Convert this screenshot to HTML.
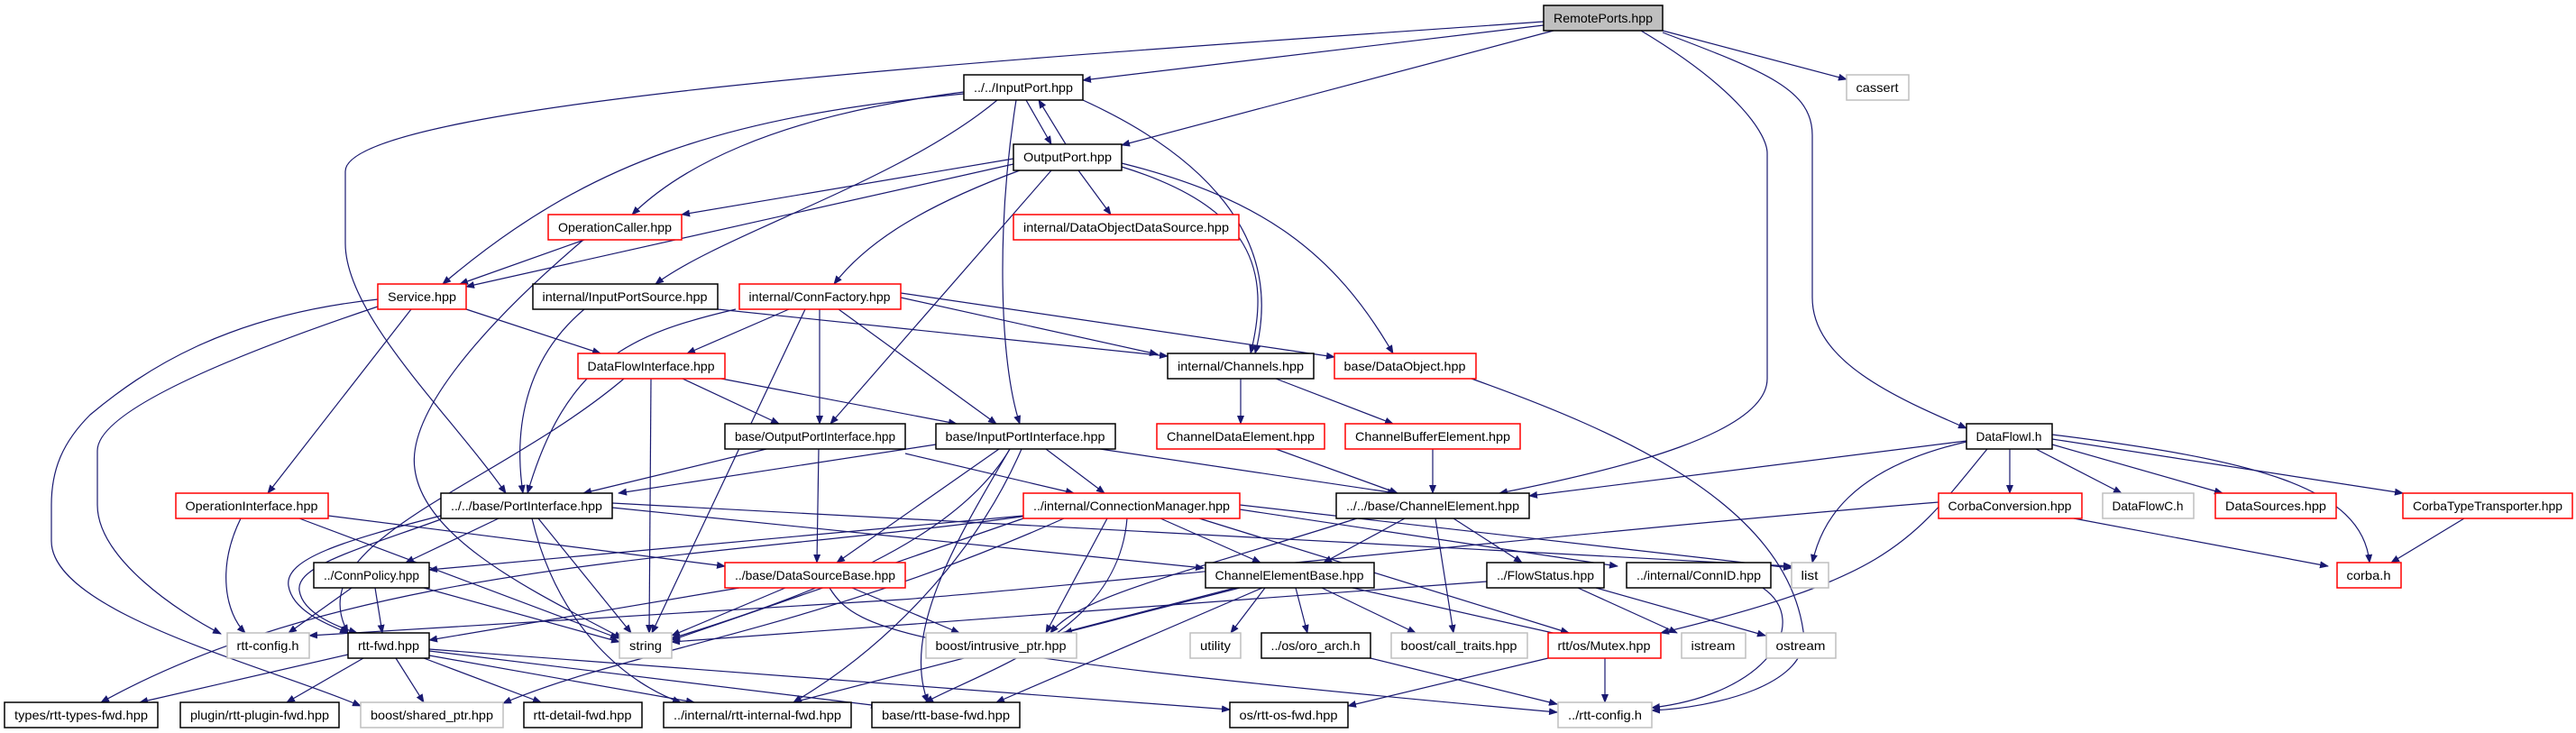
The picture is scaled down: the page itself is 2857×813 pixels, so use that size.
<!DOCTYPE html>
<html><head><meta charset="utf-8"><style>
html,body{margin:0;padding:0;background:#fff;}
svg{display:block}
text{font-family:"Liberation Sans",sans-serif;font-size:14px;fill:#000;text-anchor:middle}
.b{fill:#fff;stroke:#000;stroke-width:1.5}
.r{fill:#fff;stroke:#ff0000;stroke-width:1.5}
.g{fill:#fff;stroke:#bfbfbf;stroke-width:1.5}
.e path{fill:none;stroke:#191970;stroke-width:1.2;marker-end:url(#a)}
</style></head><body>
<svg width="2857" height="813" viewBox="0 0 2857 813" xmlns="http://www.w3.org/2000/svg">
<defs><marker id="a" markerWidth="10" markerHeight="8" refX="9" refY="4" orient="auto" markerUnits="userSpaceOnUse"><path d="M0,0 L10,4 L0,8 z" fill="#191970"/></marker></defs>
<g class="e">
<path d="M1712,28 L1201,89"/>
<path d="M1723,34 L1244,161"/>
<path d="M1712,24 C1200,60 383,110 383,190 L383,270 C383,350 500,460 561,547"/>
<path d="M1820,34 C1930,100 1960,150 1960,170 L1960,420 C1960,480 1800,520 1663,547"/>
<path d="M1844,34 L2048,88"/>
<path d="M1844,36 C1960,80 2010,100 2010,150 L2010,330 C2010,400 2100,440 2181,475"/>
<path d="M1138,111 L1166,160"/>
<path d="M1182,160 L1152,111"/>
<path d="M1069,102 C850,130 750,190 701,238"/>
<path d="M1069,104 C800,130 650,180 491,315"/>
<path d="M1106,111 C1000,200 800,260 727,315"/>
<path d="M1127,111 C1105,250 1108,400 1131,470"/>
<path d="M1201,111 C1330,170 1427,260 1392,392"/>
<path d="M1124,176 L756,238"/>
<path d="M1124,182 L517,318"/>
<path d="M1131,189 C1020,230 960,270 925,315"/>
<path d="M1196,189 L1232,238"/>
<path d="M1244,185 C1390,230 1410,300 1387,392"/>
<path d="M1244,181 C1400,220 1480,280 1545,392"/>
<path d="M1166,189 L921,470"/>
<path d="M648,266 L510,315"/>
<path d="M647,266 C560,340 450,450 460,520 C470,600 600,660 690,708"/>
<path d="M419,332 C250,350 160,410 100,460 C70,490 57,520 57,560 L57,600 C57,680 300,740 400,783"/>
<path d="M419,340 C300,380 108,450 108,500 L108,560 C108,620 200,680 245,703"/>
<path d="M456,343 L297,547"/>
<path d="M517,343 L666,392"/>
<path d="M796,343 L1295,395"/>
<path d="M648,343 C580,400 570,480 580,547"/>
<path d="M875,343 L762,392"/>
<path d="M816,343 C700,370 628,400 585,547"/>
<path d="M893,343 L723,702"/>
<path d="M909,343 L909,470"/>
<path d="M930,343 L1105,470"/>
<path d="M999,330 L1284,393"/>
<path d="M999,325 L1480,396"/>
<path d="M757,420 L864,470"/>
<path d="M800,420 L1061,470"/>
<path d="M722,420 L720,702"/>
<path d="M692,420 C550,540 330,600 386,702"/>
<path d="M850,498 L647,547"/>
<path d="M908,498 L906,624"/>
<path d="M1004,503 L1191,547"/>
<path d="M1038,493 L686,547"/>
<path d="M1160,498 L1225,547"/>
<path d="M1220,498 L1548,547"/>
<path d="M1108,498 L928,624"/>
<path d="M1120,498 C1060,600 900,660 745,708"/>
<path d="M1133,498 C1080,620 980,720 880,779"/>
<path d="M1120,498 C1060,600 1000,700 1029,779"/>
<path d="M1415,498 L1550,547"/>
<path d="M1589,498 L1589,547"/>
<path d="M1376,420 L1376,470"/>
<path d="M1415,420 L1545,470"/>
<path d="M1632,420 C1800,480 1980,560 2000,700 C2010,760 1900,785 1832,788"/>
<path d="M553,575 L450,624"/>
<path d="M489,572 C380,600 315,620 320,650 C325,680 370,695 386,702"/>
<path d="M489,576 C395,610 328,628 332,655 C336,682 380,697 396,702"/>
<path d="M597,575 L700,702"/>
<path d="M590,575 C620,700 700,760 755,779"/>
<path d="M679,563 L1335,630"/>
<path d="M679,558 L1987,628"/>
<path d="M1140,572 C800,620 400,620 112,779"/>
<path d="M267,575 C240,630 250,680 272,702"/>
<path d="M332,575 L686,708"/>
<path d="M364,572 L804,628"/>
<path d="M390,652 L320,702"/>
<path d="M416,652 L424,702"/>
<path d="M470,652 L687,712"/>
<path d="M820,652 L476,710"/>
<path d="M871,652 L745,705"/>
<path d="M945,652 L1064,702"/>
<path d="M920,652 C950,700 1000,725 1727,790"/>
<path d="M1135,572 L476,632"/>
<path d="M1287,575 L1398,624"/>
<path d="M1330,575 L1740,702"/>
<path d="M1375,565 L1794,628"/>
<path d="M1375,560 L1987,630"/>
<path d="M1228,575 L1160,702"/>
<path d="M1250,575 C1240,700 1100,740 1026,779"/>
<path d="M1135,575 L745,710"/>
<path d="M1180,575 C900,700 700,720 558,780"/>
<path d="M1558,575 L1468,624"/>
<path d="M1612,575 L1688,624"/>
<path d="M1592,575 L1612,702"/>
<path d="M1505,575 C1300,640 1200,660 1165,702"/>
<path d="M1375,652 L1180,702"/>
<path d="M1403,652 L1365,702"/>
<path d="M1437,652 L1450,702"/>
<path d="M1466,652 L1570,702"/>
<path d="M1500,652 L1740,706"/>
<path d="M1370,652 L880,779"/>
<path d="M1400,652 L1105,779"/>
<path d="M1649,645 L745,712"/>
<path d="M1750,652 L1860,702"/>
<path d="M1770,652 L1958,705"/>
<path d="M1955,652 C2010,690 1960,770 1832,785"/>
<path d="M2181,489 L1696,550"/>
<path d="M2181,490 C2050,520 2020,580 2010,624"/>
<path d="M2204,498 C2120,600 2100,640 1842,702"/>
<path d="M2229,498 L2229,547"/>
<path d="M2258,498 L2353,547"/>
<path d="M2276,493 L2465,547"/>
<path d="M2276,487 L2665,547"/>
<path d="M2276,482 C2500,510 2620,540 2628,624"/>
<path d="M2300,575 L2582,628"/>
<path d="M2150,557 C1800,585 1200,650 1000,665 L343,705"/>
<path d="M2733,575 L2652,624"/>
<path d="M1717,730 L1495,783"/>
<path d="M1780,730 L1780,779"/>
<path d="M1520,730 L1727,781"/>
<path d="M386,726 L155,779"/>
<path d="M403,730 L318,779"/>
<path d="M439,730 L470,779"/>
<path d="M470,730 L600,779"/>
<path d="M476,727 L770,779"/>
<path d="M476,722 L975,783"/>
<path d="M476,720 L1364,787"/>
</g>
<g>
<rect x="1712" y="6" width="132" height="28" fill="#bfbfbf" stroke="#000" stroke-width="1.5"/><text x="1778" y="25" textLength="110" lengthAdjust="spacingAndGlyphs">RemotePorts.hpp</text>
<rect class="b" x="1069" y="83" width="132" height="28"/><text x="1135" y="102" textLength="110" lengthAdjust="spacingAndGlyphs">../../InputPort.hpp</text>
<rect class="g" x="2048" y="83" width="69" height="28"/><text x="2082" y="102" textLength="47" lengthAdjust="spacingAndGlyphs">cassert</text>
<rect class="b" x="1124" y="160" width="120" height="29"/><text x="1184" y="179" textLength="98" lengthAdjust="spacingAndGlyphs">OutputPort.hpp</text>
<rect class="r" x="608" y="238" width="148" height="28"/><text x="682" y="257" textLength="126" lengthAdjust="spacingAndGlyphs">OperationCaller.hpp</text>
<rect class="r" x="1124" y="238" width="250" height="28"/><text x="1249" y="257" textLength="228" lengthAdjust="spacingAndGlyphs">internal/DataObjectDataSource.hpp</text>
<rect class="r" x="419" y="315" width="98" height="28"/><text x="468" y="334" textLength="76" lengthAdjust="spacingAndGlyphs">Service.hpp</text>
<rect class="b" x="591" y="315" width="205" height="28"/><text x="693" y="334" textLength="183" lengthAdjust="spacingAndGlyphs">internal/InputPortSource.hpp</text>
<rect class="r" x="820" y="315" width="179" height="28"/><text x="909" y="334" textLength="157" lengthAdjust="spacingAndGlyphs">internal/ConnFactory.hpp</text>
<rect class="r" x="641" y="392" width="163" height="28"/><text x="722" y="411" textLength="141" lengthAdjust="spacingAndGlyphs">DataFlowInterface.hpp</text>
<rect class="b" x="1295" y="392" width="162" height="28"/><text x="1376" y="411" textLength="140" lengthAdjust="spacingAndGlyphs">internal/Channels.hpp</text>
<rect class="r" x="1480" y="392" width="157" height="28"/><text x="1558" y="411" textLength="135" lengthAdjust="spacingAndGlyphs">base/DataObject.hpp</text>
<rect class="b" x="804" y="470" width="200" height="28"/><text x="904" y="489" textLength="178" lengthAdjust="spacingAndGlyphs">base/OutputPortInterface.hpp</text>
<rect class="b" x="1038" y="470" width="199" height="28"/><text x="1137" y="489" textLength="177" lengthAdjust="spacingAndGlyphs">base/InputPortInterface.hpp</text>
<rect class="r" x="1283" y="470" width="186" height="28"/><text x="1376" y="489" textLength="164" lengthAdjust="spacingAndGlyphs">ChannelDataElement.hpp</text>
<rect class="r" x="1492" y="470" width="194" height="28"/><text x="1589" y="489" textLength="172" lengthAdjust="spacingAndGlyphs">ChannelBufferElement.hpp</text>
<rect class="b" x="2181" y="470" width="95" height="28"/><text x="2228" y="489" textLength="73" lengthAdjust="spacingAndGlyphs">DataFlowI.h</text>
<rect class="r" x="195" y="547" width="169" height="28"/><text x="279" y="566" textLength="147" lengthAdjust="spacingAndGlyphs">OperationInterface.hpp</text>
<rect class="b" x="489" y="547" width="190" height="28"/><text x="584" y="566" textLength="168" lengthAdjust="spacingAndGlyphs">../../base/PortInterface.hpp</text>
<rect class="r" x="1135" y="547" width="240" height="28"/><text x="1255" y="566" textLength="218" lengthAdjust="spacingAndGlyphs">../internal/ConnectionManager.hpp</text>
<rect class="b" x="1482" y="547" width="214" height="28"/><text x="1589" y="566" textLength="192" lengthAdjust="spacingAndGlyphs">../../base/ChannelElement.hpp</text>
<rect class="r" x="2150" y="547" width="159" height="28"/><text x="2229" y="566" textLength="137" lengthAdjust="spacingAndGlyphs">CorbaConversion.hpp</text>
<rect class="g" x="2332" y="547" width="101" height="28"/><text x="2382" y="566" textLength="79" lengthAdjust="spacingAndGlyphs">DataFlowC.h</text>
<rect class="r" x="2457" y="547" width="134" height="28"/><text x="2524" y="566" textLength="112" lengthAdjust="spacingAndGlyphs">DataSources.hpp</text>
<rect class="r" x="2665" y="547" width="188" height="28"/><text x="2759" y="566" textLength="166" lengthAdjust="spacingAndGlyphs">CorbaTypeTransporter.hpp</text>
<rect class="b" x="348" y="624" width="128" height="28"/><text x="412" y="643" textLength="106" lengthAdjust="spacingAndGlyphs">../ConnPolicy.hpp</text>
<rect class="r" x="804" y="624" width="200" height="28"/><text x="904" y="643" textLength="178" lengthAdjust="spacingAndGlyphs">../base/DataSourceBase.hpp</text>
<rect class="b" x="1337" y="624" width="187" height="28"/><text x="1430" y="643" textLength="165" lengthAdjust="spacingAndGlyphs">ChannelElementBase.hpp</text>
<rect class="b" x="1649" y="624" width="130" height="28"/><text x="1714" y="643" textLength="108" lengthAdjust="spacingAndGlyphs">../FlowStatus.hpp</text>
<rect class="b" x="1804" y="624" width="160" height="28"/><text x="1884" y="643" textLength="138" lengthAdjust="spacingAndGlyphs">../internal/ConnID.hpp</text>
<rect class="g" x="1987" y="624" width="41" height="28"/><text x="2007" y="643" textLength="19" lengthAdjust="spacingAndGlyphs">list</text>
<rect class="r" x="2592" y="624" width="71" height="28"/><text x="2627" y="643" textLength="49" lengthAdjust="spacingAndGlyphs">corba.h</text>
<rect class="g" x="252" y="702" width="91" height="28"/><text x="297" y="721" textLength="69" lengthAdjust="spacingAndGlyphs">rtt-config.h</text>
<rect class="b" x="386" y="702" width="90" height="28"/><text x="431" y="721" textLength="68" lengthAdjust="spacingAndGlyphs">rtt-fwd.hpp</text>
<rect class="g" x="687" y="702" width="58" height="28"/><text x="716" y="721" textLength="36" lengthAdjust="spacingAndGlyphs">string</text>
<rect class="g" x="1027" y="702" width="167" height="28"/><text x="1110" y="721" textLength="145" lengthAdjust="spacingAndGlyphs">boost/intrusive_ptr.hpp</text>
<rect class="g" x="1320" y="702" width="56" height="28"/><text x="1348" y="721" textLength="34" lengthAdjust="spacingAndGlyphs">utility</text>
<rect class="b" x="1399" y="702" width="121" height="28"/><text x="1459" y="721" textLength="99" lengthAdjust="spacingAndGlyphs">../os/oro_arch.h</text>
<rect class="g" x="1543" y="702" width="151" height="28"/><text x="1618" y="721" textLength="129" lengthAdjust="spacingAndGlyphs">boost/call_traits.hpp</text>
<rect class="r" x="1717" y="702" width="125" height="28"/><text x="1779" y="721" textLength="103" lengthAdjust="spacingAndGlyphs">rtt/os/Mutex.hpp</text>
<rect class="g" x="1865" y="702" width="71" height="28"/><text x="1900" y="721" textLength="49" lengthAdjust="spacingAndGlyphs">istream</text>
<rect class="g" x="1959" y="702" width="77" height="28"/><text x="1997" y="721" textLength="55" lengthAdjust="spacingAndGlyphs">ostream</text>
<rect class="b" x="5" y="779" width="170" height="28"/><text x="90" y="798" textLength="148" lengthAdjust="spacingAndGlyphs">types/rtt-types-fwd.hpp</text>
<rect class="b" x="200" y="779" width="176" height="28"/><text x="288" y="798" textLength="154" lengthAdjust="spacingAndGlyphs">plugin/rtt-plugin-fwd.hpp</text>
<rect class="g" x="400" y="779" width="158" height="28"/><text x="479" y="798" textLength="136" lengthAdjust="spacingAndGlyphs">boost/shared_ptr.hpp</text>
<rect class="b" x="581" y="779" width="131" height="28"/><text x="646" y="798" textLength="109" lengthAdjust="spacingAndGlyphs">rtt-detail-fwd.hpp</text>
<rect class="b" x="736" y="779" width="208" height="28"/><text x="840" y="798" textLength="186" lengthAdjust="spacingAndGlyphs">../internal/rtt-internal-fwd.hpp</text>
<rect class="b" x="967" y="779" width="164" height="28"/><text x="1049" y="798" textLength="142" lengthAdjust="spacingAndGlyphs">base/rtt-base-fwd.hpp</text>
<rect class="b" x="1364" y="779" width="131" height="28"/><text x="1429" y="798" textLength="109" lengthAdjust="spacingAndGlyphs">os/rtt-os-fwd.hpp</text>
<rect class="g" x="1728" y="779" width="104" height="28"/><text x="1780" y="798" textLength="82" lengthAdjust="spacingAndGlyphs">../rtt-config.h</text>
</g>
</svg>
</body></html>
